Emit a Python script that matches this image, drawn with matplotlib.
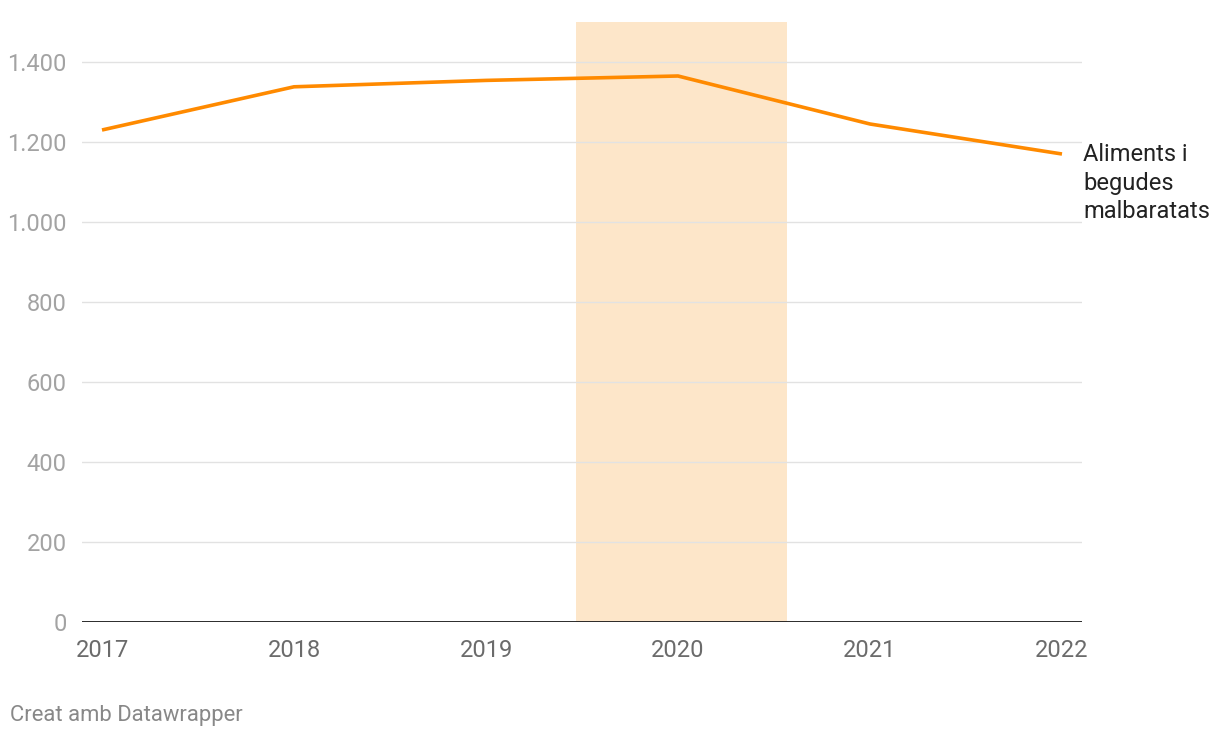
import matplotlib
matplotlib.use('Agg')
import matplotlib.pyplot as plt

plt.rcParams['font.family'] = ['Roboto', 'DejaVu Sans']

# data
years = [2017, 2018, 2019, 2020, 2021, 2022]
waste = [1230, 1338, 1354, 1365, 1245, 1170]
yticks = [0, 200, 400, 600, 800, 1000, 1200, 1400]
ylabels = ['0', '200', '400', '600', '800', '1.000', '1.200', '1.400']
highlight = (2019.47, 2020.57)
series_label = 'Aliments i\nbegudes\nmalbaratats'

fig = plt.figure(figsize=(12.2, 7.38), dpi=100)
ax = fig.add_axes([82/1220, 116/738, 1000/1220, 600/738])

ax.axvspan(highlight[0], highlight[1], color='#fde6c9', lw=0, zorder=0)
ax.plot(years, waste, color='#ff8a00', lw=2.6, solid_capstyle='butt', zorder=3)

ax.set_xlim(2017 - 20/192, 2022 + 20/192)
ax.set_ylim(0, 1500)
ax.set_yticks(yticks)
ax.set_yticklabels(ylabels)
ax.set_xticks(years)
ax.set_xticklabels([str(y) for y in years])

for y in yticks[1:]:
    ax.axhline(y, color='#e2e2e2', lw=1, zorder=1)
ax.axhline(0, color='#1a1a1a', lw=1.3, zorder=4)

for s in ax.spines.values():
    s.set_visible(False)
ax.tick_params(axis='y', length=0, pad=11, labelsize=17, labelcolor='#a3a3a3')
ax.tick_params(axis='x', length=0, pad=12, labelsize=17, labelcolor='#6b6b6b')

ax.text(2022 + 21/192, 1170 + 27, series_label, fontsize=17, color='#222222',
        va='top', ha='left', linespacing=1.3, clip_on=False)

fig.text(10/1220, 1 - 715/738, 'Creat amb Datawrapper', fontsize=15.8,
         color='#888888', va='center', ha='left')

fig.savefig('out.png', dpi=100, facecolor='white')
